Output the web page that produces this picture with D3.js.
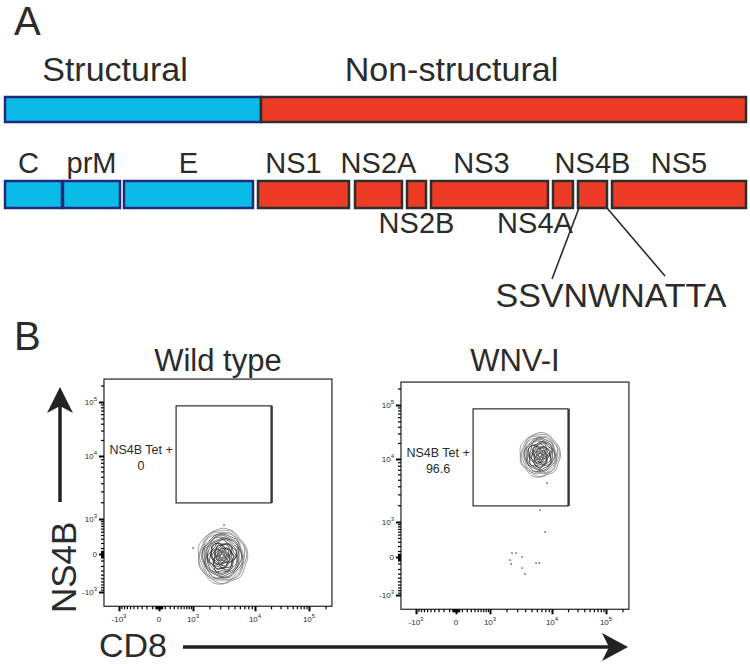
<!DOCTYPE html>
<html>
<head>
<meta charset="utf-8">
<script src="https://cdn.jsdelivr.net/npm/d3@7"></script>
<style>
body { margin: 0; background: #fff; }
text { font-family: "Liberation Sans", Arial, Helvetica, sans-serif; fill: #2b2b2b; }
</style>
</head>
<body>
<svg id="fig" width="750" height="664"></svg>
<script>
// polyprotein map, in arbitrary units along the genome as drawn
const regionNames = ['Structural', 'Non-structural']
const regionStart = [0, 256]
const regionEnd = [256, 741]

const proteinNames = ['C', 'prM', 'E', 'NS1', 'NS2A', 'NS2B', 'NS3', 'NS4A', 'NS4B', 'NS5']
const proteinStart = [0, 58, 119, 253, 350, 402, 426, 548, 573, 607]
const proteinEnd = [57, 115, 248, 344, 397, 421, 543, 568, 602, 741]
const proteinRegion = ['Structural', 'Structural', 'Structural', 'Non-structural', 'Non-structural',
    'Non-structural', 'Non-structural', 'Non-structural', 'Non-structural', 'Non-structural']

const epitope = 'SSVNWNATTA'
const epitopeProtein = 'NS4B'

// flow panels
const samples = ['Wild type', 'WNV-I']
const gateName = 'NS4B Tet +'
const gatePercent = ['0', '96.6']
const gateCD8 = [360, 20000]
const gateNS4B = [1950, 85000]
const axisMin = -1800
const axisMax = 262144
const majorTicks = [-1000, 0, 1000, 10000, 100000]
const minorTicks = [-900, -800, -700, -600, -500, -400, -300, -200, -100,
    -50, -40, -30, -20, -10, 10, 20, 30, 40, 50,
    100, 200, 300, 400, 500, 600, 700, 800, 900,
    2000, 3000, 4000, 5000, 6000, 7000, 8000, 9000,
    20000, 30000, 40000, 50000, 60000, 70000, 80000, 90000, 200000]

// main population: centre and extent of the outer contour (per sample)
const popCD8 = [3200, 6700]
const popNS4B = [-30, 11900]
const popCD8Range = [[1250, 7700], [3300, 14200]]
const popNS4BRange = [[-680, 590], [5500, 30600]]
const contourLevels = [
    [1, 0.95, 0.9, 0.85, 0.8, 0.75, 0.7, 0.65, 0.6, 0.55, 0.5, 0.46, 0.42, 0.38, 0.34, 0.3, 0.26, 0.22, 0.18, 0.14, 0.1, 0.06],
    [1, 0.94, 0.88, 0.82, 0.76, 0.7, 0.64, 0.58, 0.52, 0.46, 0.41, 0.36, 0.31, 0.26, 0.21, 0.16, 0.11, 0.07]
]
const contourWobble = [0.03, -0.02, 0.05, -0.04, 0.01, 0.04, -0.05, 0.02, -0.03, 0.05, -0.01, -0.04, 0.03, 0.02, -0.05, 0.01]

// sparse events outside the main population
const eventsCD8 = [
    [3440, 1000],
    [2470, 2870, 2290, 2390, 3570, 3570, 3970, 5820, 6490, 7910, 6700, 8450]
]
const eventsNS4B = [
    [740, 100],
    [64, 64, -44, -108, 0, -181, -309, -91, -91, 590, 1660, 4470]
]

const svg = d3.select('#fig')

// ---------- panel A ----------
const gx = d3.scaleLinear().domain([0, 741]).range([5, 746])
const fillColor = d3.scaleOrdinal(regionNames, ['#0abbe7', '#ee3b25'])
const strokeColor = d3.scaleOrdinal(regionNames, ['#23287a', '#2e2e2e'])

svg.append('text').attr('x', 14).attr('y', 35).attr('font-size', 40).text('A')

const topBar = {y: 97, h: 25}
svg.selectAll('.region')
    .data(regionNames)
    .enter().append('rect')
    .attr('class', 'region')
    .attr('x', (d, i) => gx(regionStart[i]))
    .attr('y', topBar.y)
    .attr('width', (d, i) => gx(regionEnd[i]) - gx(regionStart[i]))
    .attr('height', topBar.h)
    .style('fill', d => fillColor(d))
    .style('stroke', d => strokeColor(d))
    .style('stroke-width', 2.5)

svg.selectAll('.regionLabel')
    .data(regionNames)
    .enter().append('text')
    .attr('x', (d, i) => (gx(regionStart[i]) + gx(regionEnd[i])) / 2 - [18, 52][i])
    .attr('y', 81)
    .attr('text-anchor', 'middle')
    .attr('font-size', 34)
    .text(d => d)

const protBar = {y: 181, h: 27}
svg.selectAll('.protein')
    .data(proteinNames)
    .enter().append('rect')
    .attr('class', 'protein')
    .attr('x', (d, i) => gx(proteinStart[i]))
    .attr('y', protBar.y)
    .attr('width', (d, i) => gx(proteinEnd[i]) - gx(proteinStart[i]))
    .attr('height', protBar.h)
    .style('fill', (d, i) => fillColor(proteinRegion[i]))
    .style('stroke', (d, i) => strokeColor(proteinRegion[i]))
    .style('stroke-width', 2.5)

const below = ['NS2B', 'NS4A']
const labelShift = {C: -5, NS1: -10, NS3: -8, NS4A: -28}
svg.selectAll('.protLabel')
    .data(proteinNames)
    .enter().append('text')
    .attr('x', (d, i) => (gx(proteinStart[i]) + gx(proteinEnd[i])) / 2 + (labelShift[d] || 0))
    .attr('y', d => below.includes(d) ? 233 : 173)
    .attr('text-anchor', 'middle')
    .attr('font-size', 29)
    .text(d => d)

// epitope call-out
const ep = proteinNames.indexOf(epitopeProtein)
const epX = 611, epY = 307
svg.append('text')
    .attr('x', epX).attr('y', epY)
    .attr('text-anchor', 'middle')
    .attr('font-size', 34)
    .text(epitope)
const calloutTo = [[epX - 59, 279], [epX + 54, 276]]
;[proteinStart[ep], proteinEnd[ep]].forEach((v, i) => {
    svg.append('line')
        .attr('x1', gx(v) + (i ? 0 : 1)).attr('y1', protBar.y + protBar.h)
        .attr('x2', calloutTo[i][0]).attr('y2', calloutTo[i][1])
        .style('stroke', '#2b2b2b').style('stroke-width', 1.6)
})

// ---------- panel B ----------
svg.append('text').attr('x', 14).attr('y', 350).attr('font-size', 40).text('B')

const xs = d3.scaleSymlog().constant(450).domain(majorTicks).range([119, 159, 193, 255, 309])
const ys = d3.scaleSymlog().constant(450).domain(majorTicks).range([592, 554, 519, 456, 402])
const frame = {x0: xs(axisMin), x1: xs(axisMax), y0: ys(axisMax), y1: ys(axisMin)}
const panelShift = [[0, 0], [297, 3]]

function tickLabel(sel, v) {
    if (v === 0) { sel.text('0'); return }
    sel.append('tspan').text(v < 0 ? '-10' : '10')
    sel.append('tspan').attr('dy', -4).attr('font-size', 6).text(Math.round(Math.log10(Math.abs(v))))
}

function contourPath(cx, cy, rx0, rx1, ry0, ry1, level, k) {
    const n = contourWobble.length
    const pts = d3.range(n).map(j => {
        const a = j / n * 2 * Math.PI
        const w = 1 + contourWobble[(j + 5 * k) % n] * (level < 0.6 ? 2.2 : 0.8)
        const c = Math.cos(a), s = Math.sin(a)
        return [cx + c * (c < 0 ? rx0 : rx1) * level * w, cy + s * (s < 0 ? ry1 : ry0) * level * w]
    })
    return d3.line().curve(d3.curveCatmullRomClosed)(pts)
}

samples.forEach((name, p) => {
    const [dx, dy] = panelShift[p]
    const g = svg.append('g').attr('transform', `translate(${dx},${dy})`)

    g.append('text')
        .attr('x', (frame.x0 + frame.x1) / 2).attr('y', 371 - dy)
        .attr('text-anchor', 'middle')
        .attr('font-size', 31)
        .text(name)

    g.append('rect')
        .attr('x', frame.x0).attr('y', frame.y0)
        .attr('width', frame.x1 - frame.x0).attr('height', frame.y1 - frame.y0)
        .style('fill', 'none').style('stroke', '#222').style('stroke-width', 1.2)

    // y axis ticks
    g.append('g').attr('transform', `translate(${frame.x0},0)`)
        .call(d3.axisLeft(ys).tickValues(minorTicks).tickSize(3).tickFormat(''))
        .call(a => a.select('.domain').remove())
        .call(a => a.selectAll('line').style('stroke', '#000').style('stroke-width', 1.2))
    g.append('g').attr('transform', `translate(${frame.x0},0)`)
        .call(d3.axisLeft(ys).tickValues(majorTicks).tickSize(5).tickFormat(''))
        .call(a => a.select('.domain').remove())
        .call(a => a.selectAll('line').style('stroke', '#000').style('stroke-width', 2))
    g.selectAll('.ylab')
        .data(majorTicks)
        .enter().append('text')
        .attr('x', frame.x0 - 7).attr('y', d => ys(d) + 3)
        .attr('text-anchor', 'end').attr('font-size', 8)
        .each(function(d) { tickLabel(d3.select(this), d) })

    // x axis ticks
    g.append('g').attr('transform', `translate(0,${frame.y1})`)
        .call(d3.axisBottom(xs).tickValues(minorTicks).tickSize(3).tickFormat(''))
        .call(a => a.select('.domain').remove())
        .call(a => a.selectAll('line').style('stroke', '#000').style('stroke-width', 1.2))
    g.append('g').attr('transform', `translate(0,${frame.y1})`)
        .call(d3.axisBottom(xs).tickValues(majorTicks).tickSize(5).tickFormat(''))
        .call(a => a.select('.domain').remove())
        .call(a => a.selectAll('line').style('stroke', '#000').style('stroke-width', 2))
    g.selectAll('.xlab')
        .data(majorTicks)
        .enter().append('text')
        .attr('x', d => xs(d)).attr('y', frame.y1 + 16)
        .attr('text-anchor', 'middle').attr('font-size', 8)
        .each(function(d) { tickLabel(d3.select(this), d) })

    // gate
    const gx0 = xs(gateCD8[0]), gx1 = xs(gateCD8[1])
    const gy0 = ys(gateNS4B[1]), gy1 = ys(gateNS4B[0])
    g.append('rect')
        .attr('x', gx0).attr('y', gy0).attr('width', gx1 - gx0).attr('height', gy1 - gy0)
        .style('fill', 'none').style('stroke', '#1a1a1a').style('stroke-width', 1.1)
    g.append('line')
        .attr('x1', gx1 + 1).attr('x2', gx1 + 1).attr('y1', gy0).attr('y2', gy1)
        .style('stroke', '#1a1a1a').style('stroke-width', 1.4)
    const gm = (gy0 + gy1) / 2
    g.append('text').attr('x', gx0 - 35).attr('y', gm).attr('text-anchor', 'middle')
        .attr('font-size', 12.5).text(gateName)
    g.append('text').attr('x', gx0 - 35).attr('y', gm + 16).attr('text-anchor', 'middle')
        .attr('font-size', 12.5).text(gatePercent[p])

    // population contours
    const cx = xs(popCD8[p]), cy = ys(popNS4B[p])
    const rx0 = cx - xs(popCD8Range[p][0]), rx1 = xs(popCD8Range[p][1]) - cx
    const ry0 = ys(popNS4BRange[p][0]) - cy, ry1 = cy - ys(popNS4BRange[p][1])
    g.selectAll('.contour')
        .data(contourLevels[p])
        .enter().append('path')
        .attr('d', (d, k) => contourPath(cx, cy, rx0, rx1, ry0, ry1, d, k))
        .style('fill', 'none')
        .style('stroke', d => d > 0.8 ? '#777' : '#2a2a2a')
        .style('stroke-width', d => d < 0.6 ? 0.8 : 0.7)

    // outlier events
    g.selectAll('.event')
        .data(eventsCD8[p])
        .enter().append('rect')
        .attr('x', (d, i) => xs(d) - 0.6)
        .attr('y', (d, i) => ys(eventsNS4B[p][i]) - 0.6)
        .attr('width', 1.3).attr('height', 1.3)
        .style('fill', '#222')
})

// axis titles with arrows
svg.append('text')
    .attr('transform', 'translate(76,613) rotate(-90)')
    .attr('font-size', 35)
    .text('NS4B')
svg.append('line').attr('x1', 60).attr('x2', 60).attr('y1', 502).attr('y2', 405)
    .style('stroke', '#222').style('stroke-width', 3.5)
svg.append('path').attr('d', 'M60,387 L73,413 L60,406 L47,413 Z').style('fill', '#222')

svg.append('text').attr('x', 99).attr('y', 657).attr('font-size', 34).text('CD8')
svg.append('line').attr('x1', 183).attr('x2', 612).attr('y1', 647).attr('y2', 647)
    .style('stroke', '#222').style('stroke-width', 3.5)
svg.append('path').attr('d', 'M628,647 L602,633 L609,647 L602,661 Z').style('fill', '#222')
</script>
</body>
</html>
